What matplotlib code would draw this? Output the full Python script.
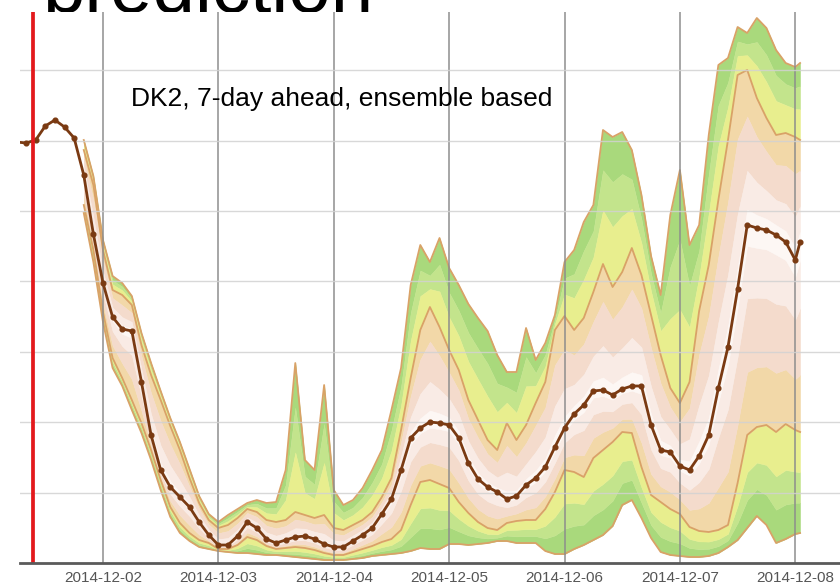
import numpy as np
import matplotlib
matplotlib.use("Agg")
import matplotlib.pyplot as plt

# ---------------- data (hours after 2014-12-01 00:00; power in chart units) -------------
now_hour = 9.5

median_hours = [6, 8, 10, 12, 14, 16, 18, 20, 22, 24, 26, 28, 30, 32, 34, 36, 38, 40, 42, 44,
                46, 48, 50, 52, 54, 56, 58, 60, 62, 64, 66, 68, 70, 72, 74, 76, 78, 80, 82, 84,
                86, 88, 90, 92, 94, 96, 98, 100, 102, 104, 106, 108, 110, 112, 114, 116, 118,
                120, 122, 124, 126, 128, 130, 132, 134, 136, 138, 140, 142, 144, 146, 148, 150,
                152, 154, 156, 158, 160, 162, 164, 166, 168, 169]
median_vals = [421, 420, 423, 437, 443, 436, 425, 388, 329, 280, 246, 234, 232, 181, 128, 93, 76,
               66, 56, 41, 28, 18, 18, 27, 41, 35, 24, 20, 23, 26, 27, 24, 19, 16, 16, 22, 28, 35,
               49, 64, 93, 125, 135, 141, 140, 138, 125, 100, 84, 76, 71, 64, 67, 78, 85, 96, 116,
               135, 149, 158, 172, 173, 168, 174, 177, 177, 138, 113, 111, 97, 93, 107, 128, 175,
               216, 274, 338, 335, 333, 328, 321, 303, 321]

ens_hours = [20, 22, 24, 26, 28, 30, 32, 34, 36, 38, 40, 42, 44, 46, 48, 50, 52, 54, 56, 58, 60,
             62, 64, 66, 68, 70, 72, 74, 76, 78, 80, 82, 84, 86, 88, 90, 92, 94, 96, 98, 100,
             102, 104, 106, 108, 110, 112, 114, 116, 118, 120, 122, 124, 126, 128, 130, 132,
             134, 136, 138, 140, 142, 144, 146, 148, 150, 152, 154, 156, 158, 160, 162, 164,
             166, 168, 169]
ens_max = [423, 387, 323, 287, 280, 267, 230, 200, 172, 145, 121, 94, 67, 49, 41, 48, 54, 60, 63,
           60, 61, 93, 200, 103, 93, 178, 73, 58, 63, 75, 93, 113, 153, 195, 278, 318, 301, 325,
           295, 278, 259, 245, 232, 208, 191, 191, 235, 203, 220, 248, 301, 313, 341, 358, 433,
           426, 431, 413, 368, 307, 268, 348, 393, 318, 338, 428, 498, 505, 536, 530, 545, 535,
           513, 500, 496, 500]
ens_upper = [413, 378, 313, 273, 268, 258, 218, 188, 163, 137, 113, 85, 60, 43, 35, 38, 45, 54,
             51, 43, 41, 43, 51, 48, 45, 48, 35, 33, 38, 43, 51, 66, 85, 133, 185, 233, 256, 236,
             213, 193, 163, 143, 123, 113, 140, 123, 138, 160, 181, 233, 247, 233, 245, 271, 299,
             276, 291, 315, 288, 248, 208, 175, 160, 181, 252, 298, 363, 423, 488, 493, 465, 445,
             428, 430, 426, 423]
ens_lower = [358, 313, 251, 205, 185, 163, 140, 113, 83, 56, 40, 30, 23, 20, 14, 14, 18, 26, 23,
             17, 14, 15, 16, 15, 13, 10, 8, 8, 11, 14, 17, 21, 24, 33, 58, 81, 83, 79, 75, 61,
             50, 41, 35, 33, 40, 42, 43, 43, 54, 71, 93, 91, 86, 105, 113, 121, 131, 130, 96, 68,
             61, 54, 49, 36, 32, 31, 33, 38, 80, 128, 136, 138, 131, 139, 133, 131]
ens_min = [350, 301, 241, 195, 177, 153, 130, 103, 73, 46, 30, 22, 16, 14, 12, 11, 10, 10, 9, 8,
           8, 7, 6, 5, 4, 3, 3, 3, 4, 5, 7, 8, 9, 10, 12, 15, 14, 14, 19, 19, 18, 19, 20, 22, 22,
           20, 20, 20, 12, 9, 9, 14, 18, 23, 28, 37, 58, 63, 45, 25, 11, 8, 7, 6, 6, 7, 10, 16,
           23, 35, 47, 38, 20, 24, 29, 30]

tick_hours = [24, 48, 72, 96, 120, 144, 168]
tick_labels = ["2014-12-02", "2014-12-03", "2014-12-04", "2014-12-05",
               "2014-12-06", "2014-12-07", "2014-12-08"]
title_text = "prediction"
note_text = "DK2, 7-day ahead, ensemble based"

# ---------------- figure ----------------
FONT = ["Liberation Sans", "DejaVu Sans"]
W, H = 840, 585
fig = plt.figure(figsize=(W / 100, H / 100), dpi=100)
fig.patch.set_facecolor("white")
ax = fig.add_axes([20 / W, 22 / H, 820 / W, 551 / H])
ax.set_facecolor("white")

eh = np.array(ens_hours, float)
mx = np.array(ens_max, float)
up = np.array(ens_upper, float)
lo = np.array(ens_lower, float)
mn = np.array(ens_min, float)
mh = np.array(median_hours, float)
mv = np.array(median_vals, float)
med_on_ens = mv[np.isin(mh, eh)]

# shaded fan (colour bands between the drawn quantile curves)
upper_outer = [(0.0, 0.3, "#a9d97c"), (0.3, 0.6, "#c3e48c"), (0.6, 1.0, "#e8ee8e")]
inner = [(0.0, 0.3, "#f2d8a8"), (0.3, 0.65, "#f4dbcc"), (0.65, 0.9, "#f9ebe5"), (0.9, 1.0, "#fdf7f4")]


def band(a, b, f0, f1, color):
    y0 = a + f0 * (b - a)
    y1 = a + f1 * (b - a)
    ax.fill_between(eh, y0, y1, facecolor=color, edgecolor=color, lw=0.3, zorder=1)


for f0, f1, c in upper_outer:
    band(mx, up, f0, f1, c)
    band(mn, lo, f0, f1, c)
for f0, f1, c in inner:
    band(up, med_on_ens, f0, f1, c)
    band(lo, med_on_ens, f0, f1, c)

edge_col = "#d9a267"
for arr in (mx, up, lo, mn):
    ax.plot(eh, arr, color=edge_col, lw=1.3, zorder=2, solid_joinstyle="round")

ax.plot(mh, mv, color="#7a3a12", lw=2.0, marker="o", ms=3.4, zorder=4,
        solid_joinstyle="round")

ax.axvline(now_hour, color="#e3191c", lw=2.7, zorder=5)

# axes styling
ax.set_xlim(6.74, 177.3)
ax.set_ylim(0, 551)
ax.set_yticks(np.arange(1, 8) * 70.4)
ax.set_yticklabels([])
ax.set_xticks(tick_hours)
ax.set_xticklabels(tick_labels, fontfamily=FONT)
ax.tick_params(axis="both", length=0)
ax.tick_params(axis="x", pad=6, labelsize=11, labelcolor="#555555")
ax.set_axisbelow(False)
ax.grid(axis="y", color="#d2d2d2", lw=1.0, alpha=0.85)
ax.grid(axis="x", color="#8c8c8c", lw=1.2, alpha=0.9)
for s in ("top", "right", "left"):
    ax.spines[s].set_visible(False)
ax.spines["bottom"].set_color("#5a5a5a")
ax.spines["bottom"].set_linewidth(2.0)
ax.spines["bottom"].set_zorder(6)

# title partly hidden behind the plot area, and the note
fig.text(42 / W, 1 - 12 / H, title_text, fontsize=55, family=FONT, va="baseline",
         ha="left", color="black", zorder=-1)
fig.text(131 / W, 1 - 106 / H, note_text, fontsize=19, family=FONT, va="baseline",
         ha="left", color="black", zorder=6)

fig.savefig("out.png", dpi=100, facecolor="white")
